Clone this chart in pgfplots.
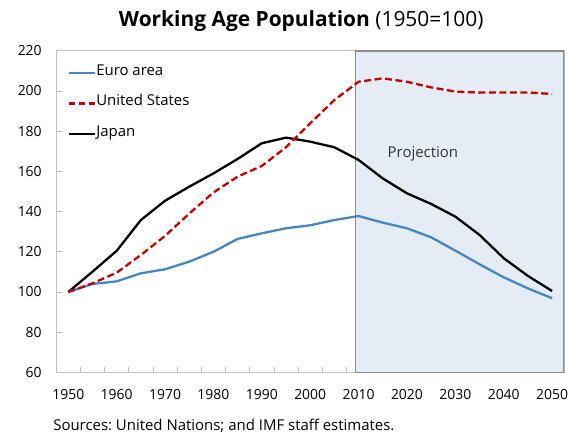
\documentclass[border=0pt]{standalone}
\usepackage{fontspec}
\setmainfont{Open Sans}
\usepackage{pgfplots}
\pgfplotsset{compat=1.18}
\definecolor{euro}{HTML}{4A86BE}
\definecolor{usred}{HTML}{C00000}
\definecolor{projfill}{HTML}{E4ECF6}
\definecolor{axgray}{HTML}{BFBFBF}
\definecolor{boxgray}{HTML}{8C8C8C}
\frenchspacing
\pgfplotstableread{
year euro us japan
1950 100   100   100
1955 104   104.3 110.1
1960 105.3 109.6 120.5
1965 109.3 118.4 135.8
1970 111.3 127.9 145.4
1975 115.1 139.0 152.4
1980 120.0 149.5 159.0
1985 126.4 157.4 166.2
1990 129.2 162.7 174.0
1995 131.7 172.0 176.8
2000 133.2 183.9 174.8
2005 135.8 195.5 172.0
2010 137.8 204.6 165.7
2015 134.5 206.3 156.5
2020 131.7 204.6 149.1
2025 127.2 201.8 143.8
2030 120.6 199.7 137.5
2035 113.8 199.2 128.4
2040 107.3 199.3 116.8
2045 101.8 199.3 108.0
2050 96.9  198.5 100.5
}\datatable
\begin{document}
\begin{tikzpicture}
\useasboundingbox (-56.2bp,-61.6bp) rectangle (517.8bp,372.4bp);
\begin{axis}[
  scale only axis, width=508bp, height=321.6bp,
  xmin=1947.5, xmax=2052.5, ymin=60, ymax=220,
  xtick={1950,1960,...,2050},
  minor xtick={1952.5,1957.5,...,2047.5},
  ytick={60,80,...,220},
  xtick pos=bottom, ytick pos=left,
  major x tick style={draw=none},
  tick align=inside,
  major tick length=6bp, minor tick length=5bp,
  every tick/.style={axgray, line width=0.8bp},
  axis line style={axgray, line width=1bp},
  /pgf/number format/assume math mode=true,
  /pgf/number format/1000 sep={},
  ticklabel style={font=\fontsize{14}{16}\selectfont, text=black},
  yticklabel style={xshift=-11bp},
  xticklabel style={yshift=-13bp},
  legend style={draw=none, fill=none, inner xsep=0pt, inner ysep=0pt,
    at={(axis description cs:0,1)}, anchor=north west, xshift=11bp, yshift=-16.5bp,
    font=\fontsize{15}{17}\selectfont,
    nodes={inner sep=0.6bp, text depth=0.25em, text height=0.75em},
    row sep=19.2bp},
  legend cell align=left,
  legend image code/.code={\draw[#1] (0bp,0bp) -- (26bp,0bp);},
]
\fill[projfill] (axis cs:2009.4,60) rectangle (axis cs:2052.5,220);
\draw[boxgray, line width=1.5bp] (axis cs:2009.4,60) rectangle (axis cs:2052.5,220);
\node[anchor=base west, text=black!80, font=\fontsize{15}{17}\selectfont] at (axis cs:2015.3,166.7) {Projection};
\addlegendimage{euro, line width=2.3bp}
\addlegendentry{Euro area}
\addlegendimage{usred, line width=2.3bp, dash pattern=on 6.5bp off 3.5bp}
\addlegendentry{United States}
\addlegendimage{black, line width=2.3bp}
\addlegendentry{Japan}
\addplot[forget plot, euro, line width=2.3bp, line join=round] table[x=year, y=euro] {\datatable};
\addplot[forget plot, black, line width=2.3bp, line join=round] table[x=year, y=japan] {\datatable};
\addplot[forget plot, usred, line width=2.3bp, line join=round, dash pattern=on 7bp off 3.5bp] table[x=year, y=us] {\datatable};
\end{axis}
\node[anchor=base, font=\fontsize{21}{24}\selectfont] at (245bp,345.8bp) {\textbf{Working Age Population} (1950=100)};
\node[anchor=base west, font=\fontsize{15}{17}\selectfont] at (-6.4bp,-57.6bp) {Sources: United Nations; and IMF staff estimates.};
\end{tikzpicture}
\end{document}
